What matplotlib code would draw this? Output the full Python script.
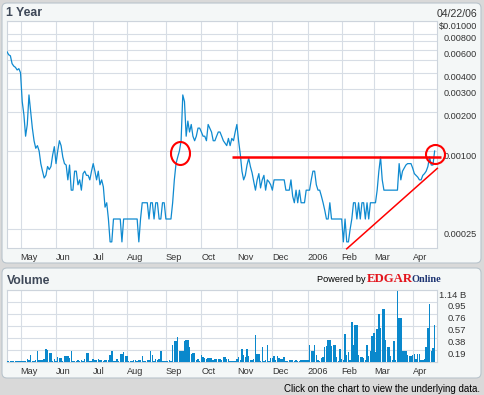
import numpy as np
import pandas as pd
import matplotlib
matplotlib.use("Agg")
import matplotlib.pyplot as plt
from matplotlib import transforms
from matplotlib.patches import FancyBboxPatch
from matplotlib.path import Path
from matplotlib.ticker import NullLocator, FixedLocator

W, H, DPI = 484, 395, 100

# ---------------- data ----------------
holidays = ['2005-05-30', '2005-07-04', '2005-09-05', '2005-11-24', '2005-12-26',
            '2006-01-02', '2006-01-16', '2006-02-20', '2006-04-14']
dates = pd.bdate_range('2005-04-20', '2006-04-21')
dates = dates[~dates.isin(pd.to_datetime(holidays))]

price = [
    0.0058, 0.0055, 0.0054, 0.0047, 0.0045, 0.0044, 0.0042, 0.0043, 0.0040, 0.0024,
    0.0019, 0.0013, 0.0016, 0.0027, 0.0020, 0.0015, 0.0012, 0.00105, 0.0011, 0.0010,
    0.0008, 0.0007, 0.00062, 0.00065, 0.00076, 0.00072, 0.00076, 0.00093, 0.00108, 0.0008,
    0.0010, 0.0012, 0.0011, 0.0009, 0.0008, 0.00078, 0.0006, 0.00078, 0.0005, 0.0005,
    0.0007, 0.0007, 0.00055, 0.0006, 0.0005, 0.00067, 0.0007, 0.00065, 0.00065, 0.0006,
    0.0007, 0.0008, 0.0007, 0.0006, 0.0007, 0.00055, 0.0006, 0.00053, 0.00037, 0.0004,
    0.0003, 0.0002, 0.0002, 0.0003, 0.0003, 0.0003, 0.0003, 0.0003, 0.0002, 0.0003,
    0.0003, 0.0003, 0.0003, 0.0003, 0.0003, 0.0003, 0.0003, 0.0003, 0.0002, 0.0003,
    0.0004, 0.0004, 0.0004, 0.0004, 0.0003, 0.0004, 0.0004, 0.0003, 0.0004, 0.0004,
    0.0003, 0.0003, 0.0004, 0.0004, 0.0003, 0.0003, 0.0003, 0.0003, 0.0004, 0.0006,
    0.0008, 0.0009, 0.0010, 0.0012, 0.0027, 0.0024, 0.0013, 0.0017, 0.0014, 0.0016,
    0.0013, 0.0012, 0.0013, 0.0015, 0.0015, 0.0014, 0.0013, 0.0013, 0.0012, 0.0016,
    0.0015, 0.0014, 0.0012, 0.0012, 0.0013, 0.0014, 0.0014, 0.0013, 0.0012, 0.00115,
    0.0011, 0.00125, 0.0011, 0.00125, 0.0012, 0.0014, 0.0016, 0.0012, 0.00095, 0.0007,
    0.0006, 0.00065, 0.00078, 0.00088, 0.00076, 0.00068, 0.00058, 0.0005, 0.0006, 0.00067,
    0.00052, 0.0006, 0.00065, 0.0005, 0.0006, 0.00058, 0.00055, 0.0005, 0.0006, 0.0006,
    0.0006, 0.0006, 0.0006, 0.0006, 0.0006, 0.0005, 0.0005, 0.0005, 0.0006, 0.00045,
    0.0004, 0.0005, 0.0004, 0.0005, 0.0004, 0.0004, 0.0004, 0.0005, 0.0005, 0.0005,
    0.0006, 0.0007, 0.0007, 0.00055, 0.0005, 0.0005, 0.00045, 0.0004, 0.00035, 0.0003,
    0.0003, 0.0004, 0.0003, 0.0003, 0.0003, 0.0003, 0.0003, 0.0003, 0.0003, 0.0002,
    0.0003, 0.0002, 0.0002, 0.00025, 0.0003, 0.0004, 0.0004, 0.0003, 0.0004, 0.0003,
    0.0004, 0.0004, 0.0003, 0.0004, 0.0003, 0.0004, 0.0004, 0.0004, 0.0004, 0.0005,
    0.0007, 0.0009, 0.0006, 0.0005, 0.0005, 0.0005, 0.0005, 0.0005, 0.0005, 0.0005,
    0.0005, 0.0005, 0.0008, 0.0006, 0.0007, 0.00074, 0.00078, 0.0008, 0.0008, 0.0008,
    0.00074, 0.00067, 0.00065, 0.00063, 0.0006, 0.0006, 0.00065, 0.00067, 0.0007, 0.00076,
    0.0009, 0.00078, 0.00078, 0.0010,
]

volume_b = [
    0.01, 0.01, 0.01, 0.01, 0.01, 0.01, 0.01, 0.01, 0.01, 0.01,
    0.01, 0.01, 0.04, 0.02, 0.10, 0.01, 0.01, 0.03, 0.17, 0.02,
    0.02, 0.02, 0.04, 0.20, 0.18, 0.13, 0.13, 0.01, 0.04, 0.01,
    0.07, 0.06, 0.06, 0.01, 0.085, 0.085, 0.085, 0.05, 0.17, 0.01,
    0.01, 0.01, 0.02, 0.01, 0.02, 0.01, 0.04, 0.13, 0.13, 0.01,
    0.01, 0.04, 0.03, 0.02, 0.04, 0.02, 0.02, 0.01, 0.02, 0.02,
    0.02, 0.105, 0.17, 0.01, 0.01, 0.04, 0.01, 0.115, 0.115, 0.15,
    0.085, 0.085, 0.01, 0.01, 0.01, 0.02, 0.02, 0.01, 0.02, 0.02,
    0.085, 0.01, 0.01, 0.03, 0.03, 0.17, 0.105, 0.01, 0.04, 0.02,
    0.04, 0.17, 0.01, 0.01, 0.01, 0.01, 0.02, 0.01, 0.27, 0.33,
    0.33, 0.385, 0.17, 0.17, 0.17, 0.33, 0.35, 0.35, 0.23, 0.12,
    0.13, 0.13, 0.02, 0.04, 0.01, 0.105, 0.075, 0.05, 0.04, 0.05,
    0.05, 0.05, 0.03, 0.04, 0.04, 0.04, 0.04, 0.02, 0.075, 0.075,
    0.04, 0.04, 0.01, 0.01, 0.01, 0.01, 0.04, 0.075, 0.03, 0.195,
    0.105, 0.075, 0.195, 0.095, 0.03, 0.02, 0.04, 0.42, 0.12, 0.12,
    0.01, 0.23, 0.01, 0.03, 0.27, 0.01, 0.05, 0.05, 0.085, 0.02,
    0.085, 0.05, 0.04, 0.04, 0.075, 0.01, 0.01, 0.02, 0.02, 0.02,
    0.01, 0.02, 0.01, 0.01, 0.02, 0.02, 0.02, 0.03, 0.02, 0.26,
    0.17, 0.17, 0.26, 0.105, 0.02, 0.01, 0.05, 0.075, 0.23, 0.24,
    0.35, 0.35, 0.24, 0.26, 0.26, 0.075, 0.01, 0.195, 0.04, 0.03,
    0.44, 0.105, 0.15, 0.02, 0.63, 0.26, 0.575, 0.575, 0.105, 0.075,
    0.075, 0.05, 0.03, 0.26, 0.085, 0.17, 0.40, 0.46, 0.15, 0.52,
    0.765, 0.54, 0.83, 0.83, 0.35, 0.23, 0.23, 0.085, 0.02, 0.32,
    0.02, 1.13, 0.70, 0.70, 0.16, 0.17, 0.17, 0.105, 0.085, 0.085,
    0.105, 0.125, 0.04, 0.115, 0.115, 0.02, 0.02, 0.04, 0.23, 0.53,
    0.91, 0.16, 0.21, 0.58,
]

price_grid = [0.00025, 0.001, 0.002, 0.003, 0.004, 0.005, 0.006, 0.007, 0.008, 0.01]
price_ticks = [0.01, 0.008, 0.006, 0.004, 0.003, 0.002, 0.001, 0.00025]
price_tick_labels = ['$0.01000', '0.00800', '0.00600', '0.00400', '0.00300',
                     '0.00200', '0.00100', '0.00025']
volume_ticks = [0.19, 0.38, 0.57, 0.76, 0.95, 1.14]
volume_tick_labels = ['0.19', '0.38', '0.57', '0.76', '0.95', '1.14 B']

# hand-drawn red markup (data space: trading-day index, price)
resistance_level = 0.0009
resistance_x = [133.0, 256.6]
trend_x = [201.0, 254.6]
trend_y = [0.000177, 0.000736]
circle_x = [102.2, 253.3]
circle_y = [0.000974, 0.00095]

# ---------------- figure ----------------
plt.rcParams['font.family'] = ['Liberation Sans', 'DejaVu Sans']
fig = plt.figure(figsize=(W / DPI, H / DPI), dpi=DPI, facecolor='#d9d9d9')
PX = transforms.Affine2D().scale(1.0 / DPI) + fig.dpi_scale_trans  # pixel units, origin bottom-left


def panel(x0, y0, x1, y1):
    p = FancyBboxPatch((x0, H - y1), x1 - x0, y1 - y0,
                       boxstyle='round,pad=0,rounding_size=5',
                       transform=PX, facecolor='#f4f7f7', edgecolor='#b9c4cc',
                       linewidth=0.8, zorder=-10)
    fig.patches.append(p)


panel(2, 3, 481, 263)
panel(2, 268, 481, 378)

GRID = '#d7dde5'
SPINE = '#cdd4dc'
LINE = '#0f8ad0'
TXT = '#333333'

x = np.arange(len(price))
month_idx = [i for i in range(1, len(dates)) if dates[i].month != dates[i - 1].month]
month_lbl = [dates[i].strftime('%Y') if dates[i].month == 1 else dates[i].strftime('%b')
             for i in month_idx]
XMAX = 254.4

# ---- price axes ----
ax1 = fig.add_axes([7 / W, 1 - 248 / H, 430 / W, 227 / H])
ax1.set_facecolor('white')
ax1.plot(x, price, color=LINE, lw=0.9, zorder=3)
ax1.set_yscale('log')
ax1.set_ylim(0.0001795, 0.01)
ax1.set_xlim(0, XMAX)
ax1.yaxis.set_major_locator(FixedLocator(price_grid))
ax1.yaxis.set_minor_locator(NullLocator())
ax1.set_yticklabels([])
ax1.set_xticks(month_idx)
ax1.set_xticklabels(month_lbl, ha='left', fontsize=6.6, color=TXT)
ax1.tick_params(axis='both', length=0)
ax1.tick_params(axis='x', pad=3.4)
ax1.grid(True, color=GRID, lw=0.8, zorder=0)
for s in ax1.spines.values():
    s.set_color(SPINE)
    s.set_linewidth(0.8)

down5 = transforms.ScaledTranslation(0, -5 / DPI, fig.dpi_scale_trans)
lab_tr = transforms.blended_transform_factory(ax1.transAxes, ax1.transData) + down5
for v, lab in zip(price_ticks, price_tick_labels):
    ax1.text(1 + 40 / 430, v, lab, transform=lab_tr, ha='right', va='center',
             fontsize=6.6, color=TXT, clip_on=False)

# red markup
RED = '#ff0000'
ax1.plot(resistance_x, [resistance_level, resistance_level], color=RED, lw=1.8,
         solid_capstyle='butt', clip_on=False, zorder=5)
ax1.plot(trend_x, trend_y, color=RED, lw=1.1, clip_on=False, zorder=5)
circ = Path.unit_circle()
ell = Path(circ.vertices * np.array([19 / 23, 1.0]), circ.codes)
ax1.plot(circle_x[:1], circle_y[:1], marker=ell, markersize=23 * 0.72, mfc='none',
         mec=RED, mew=1.5, ls='none', clip_on=False, zorder=6)
ax1.plot(circle_x[1:], circle_y[1:], marker='o', markersize=19 * 0.72, mfc='none',
         mec=RED, mew=1.5, ls='none', clip_on=False, zorder=6)

# ---- volume axes ----
ax2 = fig.add_axes([7 / W, 1 - 361.5 / H, 430 / W, 71.5 / H])
ax2.set_facecolor('white')
ax2.bar(x, volume_b, width=0.85, color='#0a88cc', linewidth=0, zorder=3)
ax2.set_xlim(0, XMAX)
ax2.set_ylim(0, 1.14)
ax2.set_yticks(volume_ticks)
ax2.set_yticklabels([])
ax2.set_xticks(month_idx)
ax2.set_xticklabels(month_lbl, ha='left', fontsize=6.6, color=TXT)
ax2.tick_params(axis='both', length=0)
ax2.tick_params(axis='x', pad=4.2)
ax2.grid(True, color=GRID, lw=0.8, zorder=0)
for s in ax2.spines.values():
    s.set_color(SPINE)
    s.set_linewidth(0.8)
vlab_tr = transforms.blended_transform_factory(ax2.transAxes, ax2.transData) + down5
for v, lab in zip(volume_ticks, volume_tick_labels):
    ax2.text(1 + 29 / 430, v, lab, transform=vlab_tr, ha='right', va='center',
             fontsize=6.8, color=TXT, clip_on=False)

# ---- texts ----
TITLE = '#3e4858'
fig.text(6.5, H - 12.5, '1 Year', transform=PX, ha='left', va='center',
         fontsize=8.8, fontweight='bold', color=TITLE)
fig.text(477, H - 14, '04/22/06', transform=PX, ha='right', va='center',
         fontsize=7.6, color=TXT)
fig.text(6.5, H - 280.5, 'Volume', transform=PX, ha='left', va='center',
         fontsize=8.8, fontweight='bold', color=TITLE)
fig.text(317, H - 279, 'Powered by', transform=PX, ha='left', va='center',
         fontsize=6.6, color='black')
fig.text(367, H - 278.5, 'EDGAR', transform=PX, ha='left', va='center',
         fontsize=9.2, fontweight='bold', color='#e3141c',
         family=['Liberation Serif', 'DejaVu Serif'])
fig.text(412, H - 279.5, 'Online', transform=PX, ha='left', va='center',
         fontsize=7.4, fontweight='bold', color='#1d3472',
         family=['Liberation Serif', 'DejaVu Serif'])
fig.text(480, H - 388.5, 'Click on the chart to view the underlying data.', transform=PX,
         ha='right', va='center', fontsize=7.0, color='black')

fig.savefig('out.png', dpi=DPI, facecolor=fig.get_facecolor())
